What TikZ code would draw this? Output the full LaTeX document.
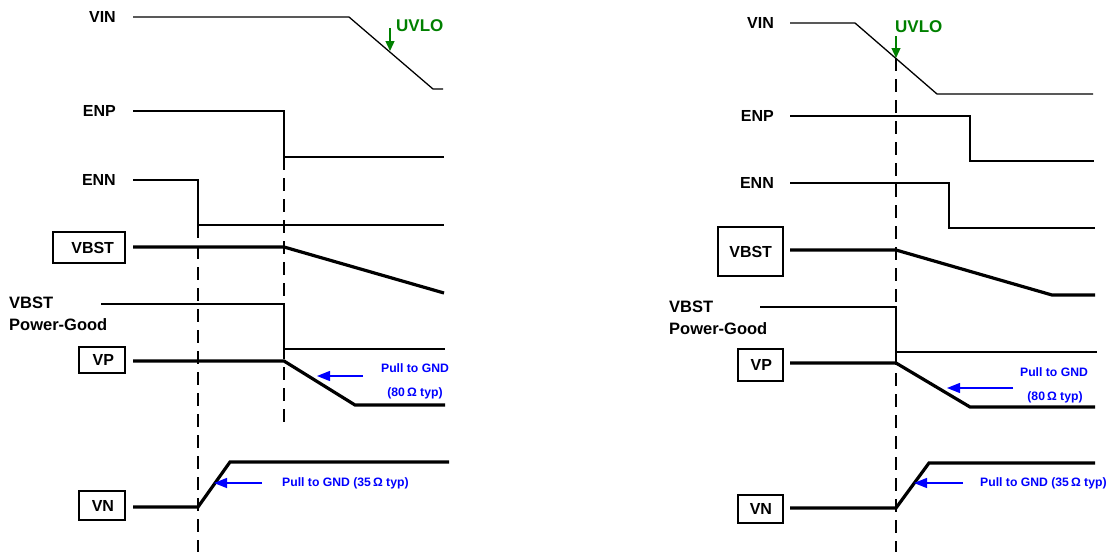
\documentclass[tikz,border=0pt]{standalone}
\usepackage{fontspec}
\setmainfont{Liberation Sans}
\usetikzlibrary{arrows.meta}
\definecolor{uvgreen}{RGB}{0,128,0}
\definecolor{pullblue}{RGB}{0,0,255}
\tikzset{
  sig/.style={line width=1.3pt, line join=miter},
  thicksig/.style={line width=3.2pt, line join=miter},
  dashv/.style={line width=2.7pt, dash pattern=on 13pt off 8pt},
  lbl/.style={inner sep=0pt, font=\fontsize{16}{22}\selectfont\bfseries},
  pglbl/.style={inner sep=0pt, font=\fontsize{16.5}{22}\selectfont\bfseries},
  boxlbl/.style={draw, line width=1.2pt, inner ysep=0pt, inner xsep=11pt, align=right, font=\fontsize{16}{18}\selectfont\bfseries},
  uvlo/.style={inner sep=0pt, text=uvgreen, font=\fontsize{17}{20}\selectfont\bfseries},
  uvarrow/.style={draw=uvgreen, line width=1.3pt, -{Triangle[length=10pt,width=9pt]}},
  pull/.style={inner sep=0pt, text=pullblue, font=\fontsize{12.2}{14}\selectfont\bfseries},
  pullarrow/.style={draw=pullblue, line width=1.4pt, -{Triangle[length=13pt,width=10pt]}}
}
\begin{document}
\begin{tikzpicture}[x=1pt,y=-1pt]
\useasboundingbox (0,0) rectangle (1109,552);
% ================= LEFT =================
\node[lbl, anchor=east] (vinL) at (116,17) {VIN};
\node[lbl, anchor=east] (enpL) at (116,111) {ENP};
\node[lbl, anchor=east] (ennL) at (116,180) {ENN};
\node[boxlbl, text width=50pt, minimum height=31pt] (vbstL) at (89,247.5) {VBST};
\node[pglbl, anchor=west, align=left] (pgL) at (9,314) {VBST\\Power-Good};
\node[boxlbl, text width=24pt, minimum height=26pt] (vpL) at (102,360) {VP};
\node[boxlbl, text width=24pt, minimum height=29pt] (vnL) at (102,505.5) {VN};
% waveforms
\draw[sig] (133,17) -- (349,17) -- (433,89) -- (443,89);
\draw[sig] (133,111) -- (284,111) -- (284,157) -- (444,157);
\draw[sig] (133,180) -- (198,180) -- (198,225) -- (444,225);
\draw[thicksig] (133,247) -- (284,247) -- (444,293);
\draw[sig] (101,304) -- (284,304) -- (284,349) -- (445,349);
\draw[thicksig] (133,361) -- (284,361) -- (355,405) -- (445,405);
\draw[thicksig] (133,507) -- (198,507) -- (230,462) -- (449,462);
\draw[dashv] (198,225) -- (198,552);
\draw[dashv] (284,157) -- (284,428);
% UVLO
\node[uvlo, anchor=west] (uvL) at (396,26) {UVLO};
\coordinate (uvLs) at (390,28);
\coordinate (uvLe) at (390,51);
\draw[uvarrow] (uvLs) -- (uvLe);
% pull labels
\node[pull] (p1L) at (415,368) {Pull to GND};
\node[pull] (p2L) at (415,393) {(80\,Ω typ)};
\coordinate (a1Ls) at (363,376);
\coordinate (a1Le) at (317,376);
\draw[pullarrow] (a1Ls) -- (a1Le);
\node[pull, anchor=west] (p3L) at (282,483) {Pull to GND (35\,Ω typ)};
\coordinate (a2Ls) at (262,483);
\coordinate (a2Le) at (214,483);
\draw[pullarrow] (a2Ls) -- (a2Le);
% ================= RIGHT =================
\node[lbl, anchor=east] (vinR) at (774,23) {VIN};
\node[lbl, anchor=east] (enpR) at (774,116) {ENP};
\node[lbl, anchor=east] (ennR) at (774,183) {ENN};
\node[boxlbl, text width=43pt, minimum height=49pt] (vbstR) at (750.5,251.5) {VBST};
\node[pglbl, anchor=west, align=left] (pgR) at (669,318) {VBST\\Power-Good};
\node[boxlbl, text width=23pt, minimum height=32pt] (vpR) at (760.5,365) {VP};
\node[boxlbl, text width=23pt, minimum height=28pt] (vnR) at (760.5,509) {VN};
% waveforms
\draw[sig] (790,23) -- (855,23) -- (937,94) -- (1093,94);
\draw[sig] (790,116) -- (970,116) -- (970,161) -- (1094,161);
\draw[sig] (790,183) -- (949,183) -- (949,228) -- (1095,228);
\draw[thicksig] (790,250) -- (896,250) -- (1052,295) -- (1095,295);
\draw[sig] (760,307) -- (896,307) -- (896,352) -- (1097,352);
\draw[thicksig] (790,363) -- (896,363) -- (970,407) -- (1095,407);
\draw[thicksig] (790,508) -- (896,508) -- (929,463) -- (1095,463);
\draw[dashv] (896,58) -- (896,552);
% UVLO
\node[uvlo, anchor=west] (uvR) at (895,27) {UVLO};
\coordinate (uvRs) at (896,36);
\coordinate (uvRe) at (896,58);
\draw[uvarrow] (uvRs) -- (uvRe);
% pull labels
\node[pull] (p1R) at (1054,372) {Pull to GND};
\node[pull] (p2R) at (1055,397) {(80\,Ω typ)};
\coordinate (a1Rs) at (1013,388);
\coordinate (a1Re) at (947,388);
\draw[pullarrow] (a1Rs) -- (a1Re);
\node[pull, anchor=west] (p3R) at (980,483) {Pull to GND (35\,Ω typ)};
\coordinate (a2Rs) at (963,483);
\coordinate (a2Re) at (914,483);
\draw[pullarrow] (a2Rs) -- (a2Re);
\end{tikzpicture}
\end{document}
